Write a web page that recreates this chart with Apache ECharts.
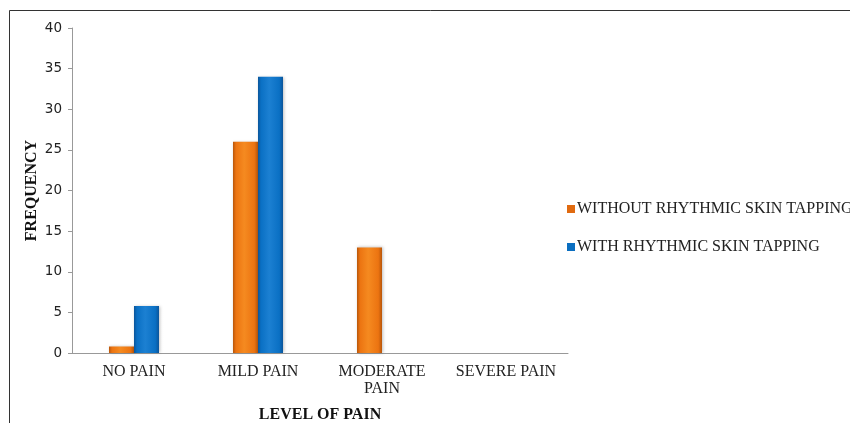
<!DOCTYPE html>
<html><head><meta charset="utf-8">
<script src="https://cdn.jsdelivr.net/npm/echarts@6/dist/echarts.min.js"></script>
<style>html,body{margin:0;padding:0;background:#fff}#c{width:850px;height:423px}</style>
</head><body><div id="c"></div>
<script>
const categories = ['NO PAIN', 'MILD PAIN', 'MODERATE\nPAIN', 'SEVERE PAIN'];
const withoutTapping = [0.8, 26, 13, 0];
const withTapping = [5.8, 34, 0, 0];
const seriesNames = ['WITHOUT RHYTHMIC SKIN TAPPING', 'WITH RHYTHMIC SKIN TAPPING'];
const yTicks = [0, 5, 10, 15, 20, 25, 30, 35, 40];

function grad(dark, mid, light) {
  return new echarts.graphic.LinearGradient(0, 0, 1, 0, [
    {offset: 0, color: dark}, {offset: 0.12, color: mid}, {offset: 0.45, color: light},
    {offset: 0.85, color: mid}, {offset: 1, color: dark}
  ]);
}
const orange = grad('#B8560A', '#EC7411', '#F58A20');
const blue = grad('#0B559A', '#0A70C4', '#1C80D2');

const chart = echarts.init(document.getElementById('c'));
chart.setOption({
  animation: false,
  backgroundColor: '#fff',
  graphic: [{type: 'rect', shape: {x: 9.5, y: 10.5, width: 900, height: 500}, style: {fill: 'none', stroke: '#333', lineWidth: 1}}],
  grid: {left: 72, right: 282, top: 28, bottom: 70, containLabel: false, outerBoundsMode: 'none'},
  legend: {
    orient: 'vertical', left: 562, top: 196, itemGap: 22, itemWidth: 8, itemHeight: 8,
    icon: 'rect',
    textStyle: {fontFamily: 'Liberation Serif', fontSize: 16, color: '#222', padding: [0, 0, 0, -3]},
    data: [{name: seriesNames[0], itemStyle: {color: '#E06A10'}}, {name: seriesNames[1], itemStyle: {color: '#0A6EC0'}}]
  },
  xAxis: {
    type: 'category', data: categories,
    name: 'LEVEL OF PAIN', nameLocation: 'middle', nameGap: 54, nameMoveOverlap: false,
    nameTextStyle: {fontFamily: 'Liberation Serif', fontWeight: 'bold', fontSize: 16, color: '#111'},
    axisLine: {lineStyle: {color: '#999'}}, axisTick: {show: false},
    axisLabel: {interval: 0, fontFamily: 'Liberation Serif', fontSize: 16, color: '#222', lineHeight: 17, margin: 10}
  },
  yAxis: {
    type: 'value', min: 0, max: 40, interval: 5,
    name: 'FREQUENCY', nameLocation: 'middle', nameGap: 32, nameMoveOverlap: false,
    nameTextStyle: {fontFamily: 'Liberation Serif', fontWeight: 'bold', fontSize: 16, color: '#111'},
    axisLine: {show: true, lineStyle: {color: '#999'}},
    axisTick: {show: true, length: 4, lineStyle: {color: '#999'}},
    splitLine: {show: false},
    axisLabel: {fontFamily: 'DejaVu Sans', fontSize: 13.5, color: '#222', margin: 10,
      formatter: v => yTicks.includes(v) ? String(v) : ''}
  },
  series: [
    {name: seriesNames[0], type: 'bar', data: withoutTapping, barWidth: 25, barGap: '0%',
      itemStyle: {color: orange, shadowColor: 'rgba(0,0,0,0.25)', shadowBlur: 3, shadowOffsetX: 1}},
    {name: seriesNames[1], type: 'bar', data: withTapping, barWidth: 25, barGap: '0%',
      itemStyle: {color: blue, shadowColor: 'rgba(0,0,0,0.25)', shadowBlur: 3, shadowOffsetX: 1}}
  ]
});
</script></body></html>
